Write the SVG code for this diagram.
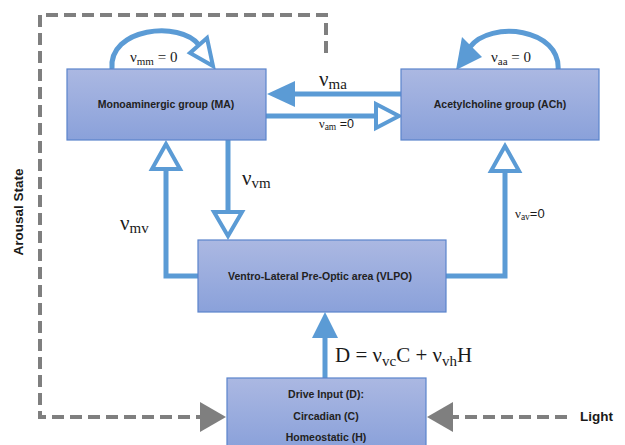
<svg xmlns="http://www.w3.org/2000/svg" width="625" height="445" viewBox="0 0 625 445">
<defs>
<linearGradient id="g" x1="0" y1="0" x2="0" y2="1">
<stop offset="0" stop-color="#abb8e2"/>
<stop offset="1" stop-color="#8aa1da"/>
</linearGradient>
</defs>
<style>
.box{fill:url(#g);stroke:#5a84cc;stroke-width:1.2}
.bt{font-family:"Liberation Sans",Arial,sans-serif;font-weight:bold;font-size:10.5px;fill:#222;text-anchor:middle}
.ln{fill:none;stroke:#5b9bd5;stroke-width:5}
.hol{fill:#fff;stroke:#5b9bd5;stroke-width:4;stroke-linejoin:miter}
.fil{fill:#5b9bd5;stroke:none}
.dash{fill:none;stroke:#7f7f7f;stroke-width:4;stroke-dasharray:12,6}
.gh{fill:#7f7f7f}
.m{font-family:"Liberation Serif","DejaVu Serif",serif;fill:#1a1a1a}
.lb{font-family:"Liberation Sans",Arial,sans-serif;font-weight:bold;font-size:13.5px;fill:#1a1a1a}
</style>
<g id="connectors">
<path class="dash" d="M326,53 V15 H40 V417 H202"/>
<polygon class="gh" points="226,417 200,402 200,432"/>
<path class="dash" d="M567,417 H452"/>
<polygon class="gh" points="427,417 453,402 453,432"/>
<path class="ln" d="M112,69 C108,28 180,20 199,45"/>
<polygon class="hol" points="207,38 190,53 213,66"/>
<path class="ln" d="M558,71 C562,28 490,20 470,47"/>
<polygon class="fil" points="462,37 482,57 456,70"/>
<path class="ln" d="M409,94 H293"/>
<polygon class="fil" points="267,94 295,81 295,107"/>
<path class="ln" d="M258,116 H376"/>
<polygon class="hol" points="399,116 376,104 376,128"/>
<path class="ln" d="M228,140 V212"/>
<polygon class="hol" points="228,236 214,212 242,212"/>
<path class="ln" d="M198,276 H166 V170"/>
<polygon class="hol" points="166,144 152,169 180,169"/>
<path class="ln" d="M442,276 H505 V172"/>
<polygon class="hol" points="505,146 491,171 519,171"/>
<path class="ln" d="M325,378 V336"/>
<polygon class="fil" points="325,312 312,338 338,338"/>
</g>
<g id="MA"><rect class="box" x="67" y="69" width="199" height="71"/><text class="bt" x="166" y="108">Monoaminergic group (MA)</text></g>
<g id="ACh"><rect class="box" x="401" y="69" width="198" height="71"/><text class="bt" x="500" y="108">Acetylcholine group  (ACh)</text></g>
<g id="VLPO"><rect class="box" x="198" y="240" width="248" height="72"/><text class="bt" x="320" y="280">Ventro-Lateral Pre-Optic area (VLPO)</text></g>
<g id="Drive"><rect class="box" x="227" y="378" width="199" height="70"/>
<text class="bt" x="326" y="398">Drive Input (D):</text>
<text class="bt" x="326" y="420">Circadian (C)</text>
<text class="bt" x="326" y="441">Homeostatic (H)</text></g>
<g id="labels">
<text class="m" x="130" y="62" font-size="15">ν<tspan font-size="11" dy="3">mm</tspan><tspan dy="-3"> = 0</tspan></text>
<text class="m" x="491" y="62" font-size="15">ν<tspan font-size="11" dy="3">aa</tspan><tspan dy="-3"> = 0</tspan></text>
<text class="m" x="319" y="86" font-size="21">ν<tspan font-size="15" dy="3">ma</tspan></text>
<text class="m" x="319" y="128" font-size="12.5">ν<tspan font-size="9.5" dy="2">am</tspan><tspan dy="-2" font-family="Liberation Sans,Arial,sans-serif"> =0</tspan></text>
<text class="m" x="242" y="185" font-size="21">ν<tspan font-size="15" dy="3">vm</tspan></text>
<text class="m" x="120" y="230" font-size="21">ν<tspan font-size="15" dy="3">mv</tspan></text>
<text class="m" x="515" y="218" font-size="13">ν<tspan font-size="9.5" dy="2">av</tspan><tspan dy="-2" font-family="Liberation Sans,Arial,sans-serif">=0</tspan></text>
<text class="m" x="335" y="362" font-size="21">D = ν<tspan font-size="15" dy="4">vc</tspan><tspan dy="-4">C + ν</tspan><tspan font-size="15" dy="4">vh</tspan><tspan dy="-4">H</tspan></text>
<text class="lb" x="580" y="421">Light</text>
<text class="lb" transform="translate(23,212) rotate(-90)" text-anchor="middle" font-size="14">Arousal State</text>
</g>
</svg>
